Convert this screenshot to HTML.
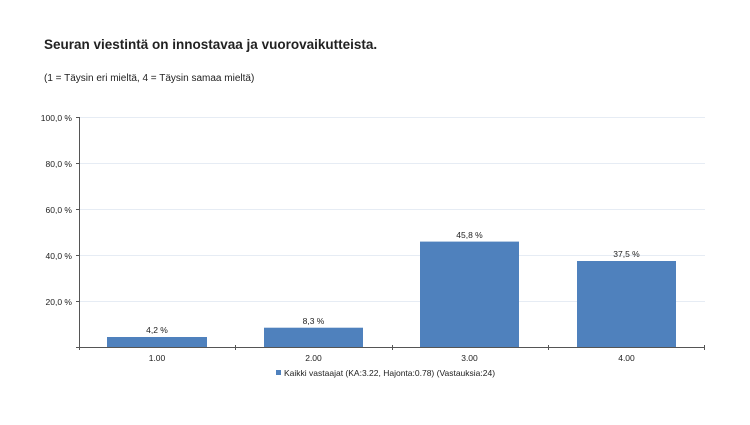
<!DOCTYPE html>
<html><head><meta charset="utf-8"><style>
body{margin:0;background:#fff;}
svg text{font-family:"Liberation Sans",sans-serif;fill:#222;}
</style></head><body>
<svg width="750" height="420" xmlns="http://www.w3.org/2000/svg">
<text x="44" y="49" font-size="13.5" font-weight="bold">Seuran viestintä on innostavaa ja vuorovaikutteista.</text>
<text x="44" y="81" font-size="10">(1 = Täysin eri mieltä, 4 = Täysin samaa mieltä)</text>
<g stroke="#e6ecf4" stroke-width="1">
<line x1="79" y1="117.5" x2="705" y2="117.5"/>
<line x1="79" y1="163.5" x2="705" y2="163.5"/>
<line x1="79" y1="209.5" x2="705" y2="209.5"/>
<line x1="79" y1="255.5" x2="705" y2="255.5"/>
<line x1="79" y1="301.5" x2="705" y2="301.5"/>
</g>
<g fill="#4f81bd">
<rect x="107" y="337" width="100" height="10"/>
<rect x="264" y="327.7" width="99" height="19.3"/>
<rect x="420" y="241.6" width="99" height="105.4"/>
<rect x="577" y="261" width="99" height="86"/>
</g>
<g stroke="#555" stroke-width="1">
<line x1="79.5" y1="117" x2="79.5" y2="347"/>
<line x1="79" y1="347.5" x2="705" y2="347.5"/>
<line x1="76" y1="117.5" x2="79" y2="117.5"/>
<line x1="76" y1="163.5" x2="79" y2="163.5"/>
<line x1="76" y1="209.5" x2="79" y2="209.5"/>
<line x1="76" y1="255.5" x2="79" y2="255.5"/>
<line x1="76" y1="301.5" x2="79" y2="301.5"/>
<line x1="76" y1="347.5" x2="79" y2="347.5"/>
<line x1="79.5" y1="345" x2="79.5" y2="350"/>
<line x1="235.5" y1="345" x2="235.5" y2="350"/>
<line x1="392.5" y1="345" x2="392.5" y2="350"/>
<line x1="548.5" y1="345" x2="548.5" y2="350"/>
<line x1="704.5" y1="345" x2="704.5" y2="350"/>
</g>
<g font-size="8.5" text-anchor="end">
<text x="72" y="121">100,0 %</text>
<text x="72" y="167">80,0 %</text>
<text x="72" y="213">60,0 %</text>
<text x="72" y="259">40,0 %</text>
<text x="72" y="305">20,0 %</text>
</g>
<g font-size="8.5" text-anchor="middle">
<text x="157" y="333">4,2 %</text>
<text x="313.5" y="324">8,3 %</text>
<text x="469.5" y="238">45,8 %</text>
<text x="626.5" y="257">37,5 %</text>
<text x="157" y="361">1.00</text>
<text x="313.5" y="361">2.00</text>
<text x="469.5" y="361">3.00</text>
<text x="626.5" y="361">4.00</text>
</g>
<rect x="276" y="370" width="5" height="5" fill="#4f81bd"/>
<text x="284" y="376" font-size="8.5">Kaikki vastaajat (KA:3.22, Hajonta:0.78) (Vastauksia:24)</text>
</svg>
</body></html>
